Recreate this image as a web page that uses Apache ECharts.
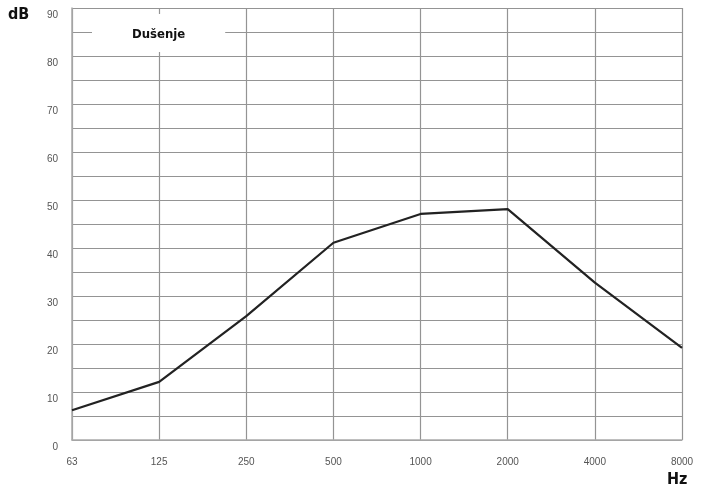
<!DOCTYPE html>
<html>
<head>
<meta charset="utf-8">
<script src="https://cdn.jsdelivr.net/npm/echarts@6/dist/echarts.min.js"></script>
<style>
html,body{margin:0;padding:0;background:#fff;}
#chart{width:710px;height:494px;}
</style>
</head>
<body>
<div id="chart"></div>
<script>
const categories = ['63', '125', '250', '500', '1000', '2000', '4000', '8000'];
const dusenje = [6.2, 12.1, 25.8, 41.1, 47.1, 48.1, 32.8, 19.2];
const seriesName = 'Dušenje';
const yUnit = 'dB';
const xUnit = 'Hz';

const chart = echarts.init(document.getElementById('chart'));
const narrow = '"DejaVu Sans Condensed", "Liberation Sans Narrow", sans-serif';
chart.setOption({
  animation: false,
  backgroundColor: '#fff',
  grid: { left: 72, right: 28, top: 8, bottom: 54 },
  legend: {
    data: [seriesName],
    left: 92, top: 14,
    icon: 'none',
    itemWidth: 0, itemHeight: 0, itemGap: 0,
    backgroundColor: '#fff',
    padding: [14, 40, 11, 35],
    textStyle: { fontFamily: narrow, fontWeight: 'bold', fontSize: 13, color: '#111' }
  },
  graphic: [
    { type: 'text', left: 8, top: 7, style: { text: yUnit, fontFamily: narrow, fontWeight: 'bold', fontSize: 16, fill: '#111' } },
    { type: 'text', left: 667, top: 472, style: { text: xUnit, fontFamily: narrow, fontWeight: 'bold', fontSize: 16, fill: '#111' } }
  ],
  xAxis: {
    type: 'category',
    data: categories,
    boundaryGap: false,
    axisLine: { show: true, lineStyle: { color: '#aaa', width: 1.5 } },
    axisTick: { show: false },
    axisLabel: { margin: 17, fontSize: 10, color: '#555', fontFamily: '"Liberation Sans", Arial, sans-serif', interval: 0 },
    splitLine: { show: true, lineStyle: { color: '#949494', width: 1.2 } }
  },
  yAxis: {
    type: 'value',
    min: 0, max: 90, interval: 5,
    axisLine: { show: true, lineStyle: { color: '#aaa', width: 1.5 } },
    axisTick: { show: false },
    axisLabel: {
      margin: 14, fontSize: 10, color: '#555', fontFamily: '"Liberation Sans", Arial, sans-serif',
      verticalAlign: 'top', padding: [2, 0, 0, 0],
      formatter: v => (v % 10 === 0 ? String(v) : '')
    },
    splitLine: { show: true, lineStyle: { color: '#949494', width: 1.2 } }
  },
  series: [{
    name: seriesName,
    type: 'line',
    data: dusenje,
    symbol: 'none',
    lineStyle: { color: '#222', width: 2.2 },
    itemStyle: { color: '#222' },
    z: 5
  }]
});
</script>
</body>
</html>
